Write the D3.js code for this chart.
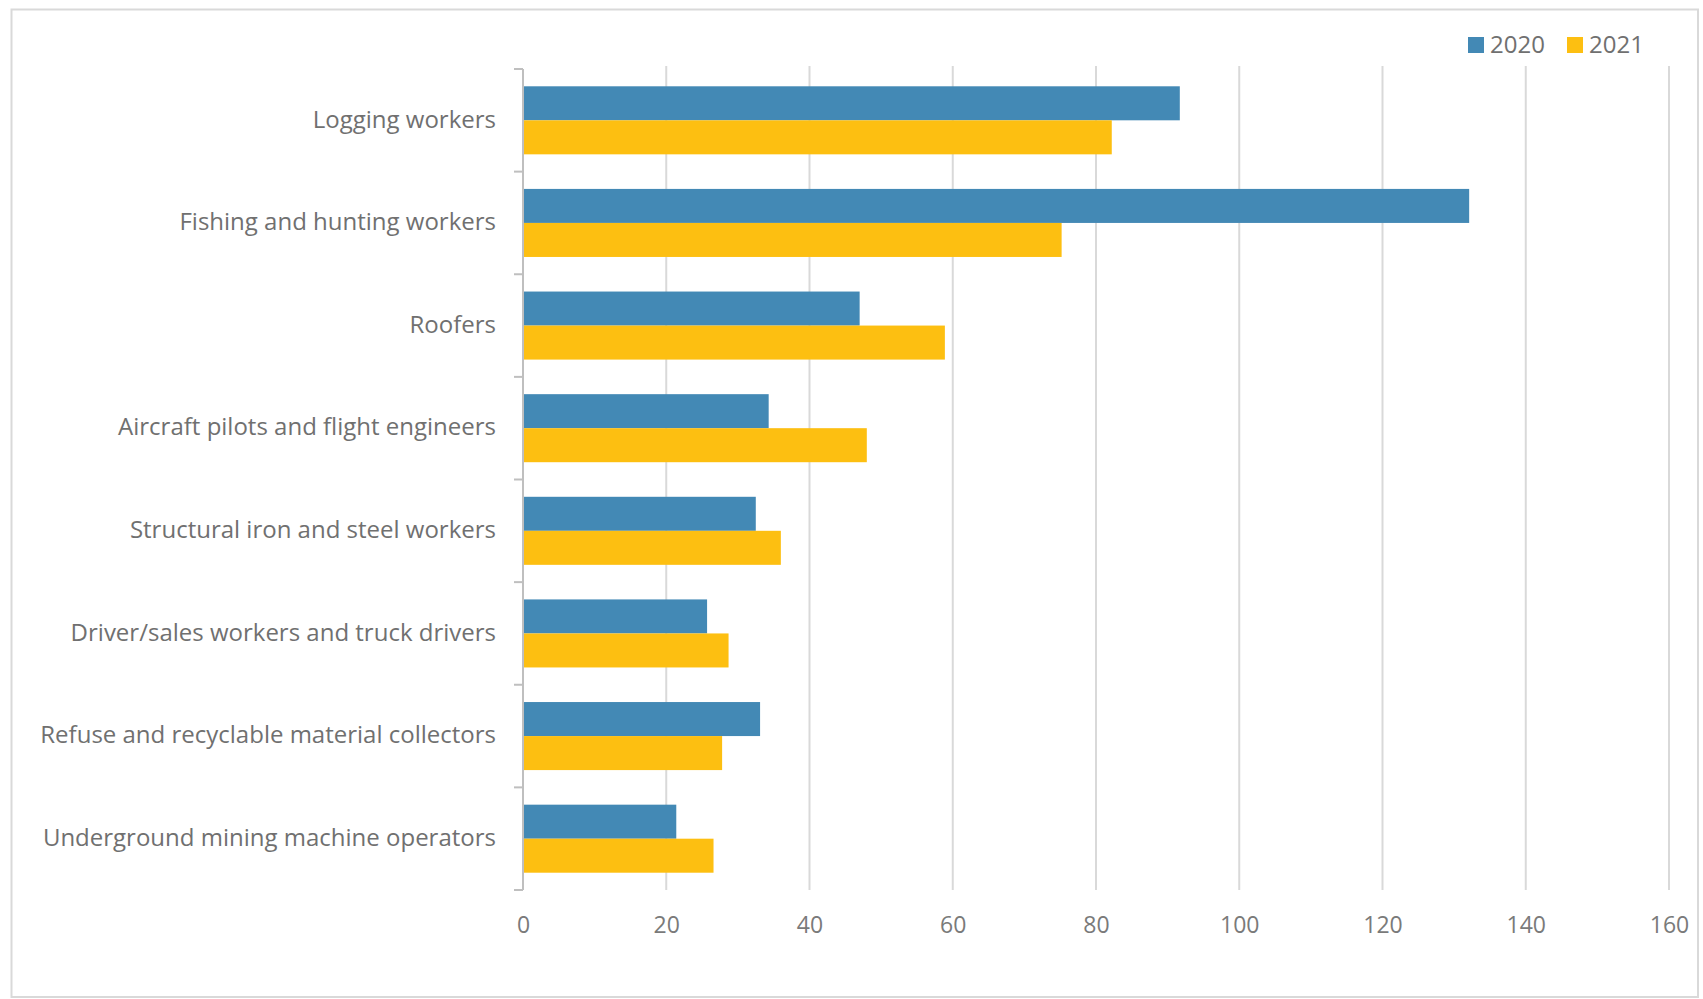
<!DOCTYPE html>
<html>
<head>
<meta charset="utf-8">
<script src="https://cdn.jsdelivr.net/npm/d3@7"></script>
<style>
  html, body { margin: 0; padding: 0; background: #fff; }
  svg { display: block; }
  text { font-family: "Open Sans", "Noto Sans", sans-serif; }
</style>
</head>
<body>
<svg id="chart" width="1703" height="999"></svg>
<script>
// Occupations (top to bottom) and fatal work injury rates per series
const categories = [
  "Logging workers",
  "Fishing and hunting workers",
  "Roofers",
  "Aircraft pilots and flight engineers",
  "Structural iron and steel workers",
  "Driver/sales workers and truck drivers",
  "Refuse and recyclable material collectors",
  "Underground mining machine operators"
];
const seriesNames = ["2020", "2021"];
const values2020 = [91.7, 132.1, 47.0, 34.3, 32.5, 25.7, 33.1, 21.4];
const values2021 = [82.2, 75.2, 58.9, 48.0, 36.0, 28.7, 27.8, 26.6];
const xTicks = [0, 20, 40, 60, 80, 100, 120, 140, 160];
const colors = ["#4389b5", "#fdbf11"];

const svg = d3.select("#chart");
const plot = { left: 523, right: 1669, top: 69, bottom: 890 };

// outer frame
svg.append("rect")
  .attr("x", 11.5).attr("y", 9.5)
  .attr("width", 1698 - 11.5).attr("height", 997 - 9.5)
  .attr("fill", "#fff").attr("stroke", "#d9d9d9").attr("stroke-width", 2);

const x = d3.scaleLinear().domain([0, 160]).range([plot.left, plot.right]);
const y = d3.scaleBand().domain(categories).range([plot.top, plot.bottom])
  .paddingInner(0.337).paddingOuter(0.1685);
const ySub = d3.scaleBand().domain(seriesNames).range([0, y.bandwidth()]);

// vertical gridlines
svg.append("g")
  .selectAll("line")
  .data(xTicks.filter(d => d > 0))
  .join("line")
  .attr("x1", d => x(d)).attr("x2", d => x(d))
  .attr("y1", plot.top - 3).attr("y2", plot.bottom)
  .attr("stroke", "#d9d9d9").attr("stroke-width", 2);

// x axis labels
const xAxis = d3.axisBottom(x).tickValues(xTicks).tickSize(0).tickPadding(0);
const gx = svg.append("g").attr("transform", `translate(0,${plot.bottom + 27})`).call(xAxis);
gx.select(".domain").remove();
gx.selectAll("text")
  .attr("fill", "#7a7a7a").attr("font-size", 23).attr("dy", "0.71em")
  .style("font-family", "'Open Sans', sans-serif");

// bars
const rows = categories.map((c, i) => ({ cat: c, vals: [values2020[i], values2021[i]] }));
const groups = svg.append("g").selectAll("g")
  .data(rows).join("g")
  .attr("transform", d => `translate(0,${y(d.cat)})`);
groups.selectAll("rect")
  .data(d => d.vals.map((v, j) => ({ key: seriesNames[j], v, j })))
  .join("rect")
  .attr("x", x(0) + 1)
  .attr("y", d => ySub(d.key))
  .attr("width", d => x(d.v) - x(0) - 1)
  .attr("height", ySub.bandwidth())
  .attr("fill", d => colors[d.j]);

// y axis with outward ticks at category boundaries
const yAxisG = svg.append("g");
yAxisG.append("line")
  .attr("x1", x(0)).attr("x2", x(0))
  .attr("y1", plot.top).attr("y2", plot.bottom)
  .attr("stroke", "#bfbfbf").attr("stroke-width", 2);
const step = y.step();
const boundaries = d3.range(categories.length + 1).map(i => plot.top + i * step);
yAxisG.selectAll("line.tick")
  .data(boundaries).join("line").attr("class", "tick")
  .attr("x1", x(0) - 9).attr("x2", x(0))
  .attr("y1", d => d).attr("y2", d => d)
  .attr("stroke", "#bfbfbf").attr("stroke-width", 2);

yAxisG.selectAll("text")
  .data(categories).join("text")
  .attr("x", plot.left - 27)
  .attr("y", d => y(d) + y.bandwidth() / 2)
  .attr("dy", "0.3em")
  .attr("text-anchor", "end")
  .attr("font-size", 24)
  .attr("fill", "#707070")
  .text(d => d);

// legend
const legend = svg.append("g").attr("transform", "translate(1468,37)");
const legendX = [0, 99];
seriesNames.forEach((name, i) => {
  const g = legend.append("g").attr("transform", `translate(${legendX[i]},0)`);
  g.append("rect").attr("width", 16).attr("height", 16).attr("fill", colors[i]);
  g.append("text").attr("x", 22).attr("y", 8).attr("dy", "0.35em")
    .attr("font-size", 24).attr("fill", "#707070").text(name);
});
</script>
</body>
</html>
